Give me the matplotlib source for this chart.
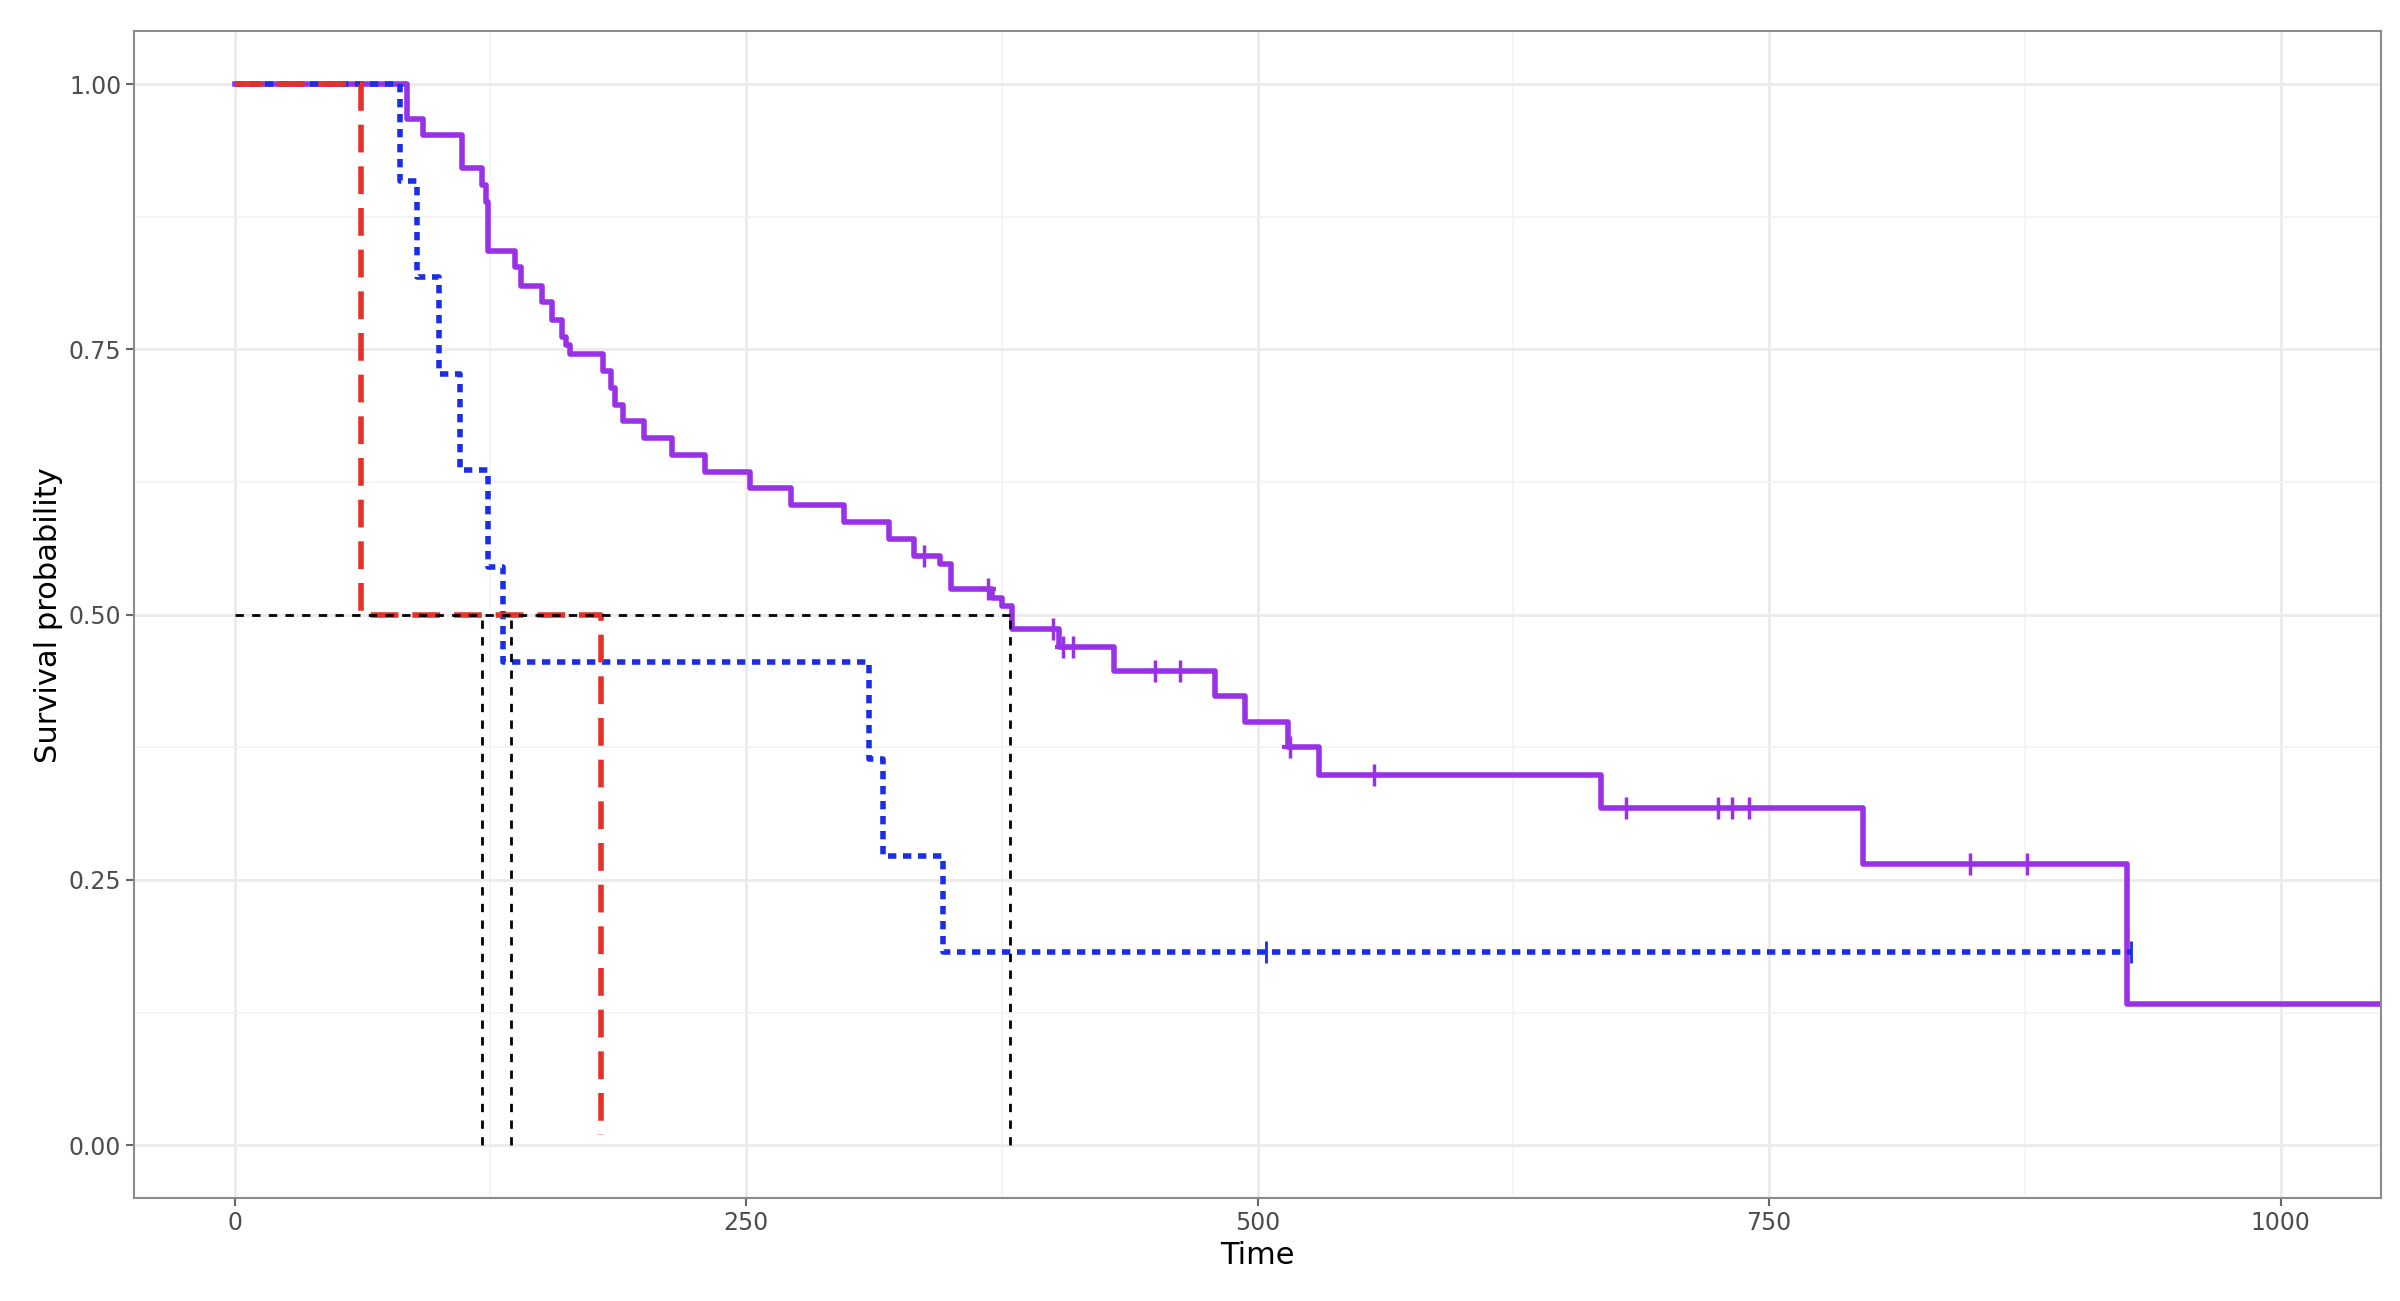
import matplotlib
import matplotlib.pyplot as plt

matplotlib.use("Agg")

# purple group: step times and survival after each step
purple_t = [0, 84, 92, 111, 121, 123, 124, 137, 140, 150, 155, 160, 162, 164, 180, 184, 186, 190,
            200, 214, 230, 252, 272, 298, 320, 332, 345, 350, 370, 375, 380, 403, 430, 479, 494, 515,
            530, 668, 796, 925, 1050]
purple_s = [1.0, 0.967, 0.952, 0.921, 0.905, 0.889, 0.843, 0.828, 0.81, 0.795, 0.778, 0.762, 0.754,
            0.746, 0.730, 0.714, 0.698, 0.683, 0.667, 0.651, 0.635, 0.619, 0.603, 0.587, 0.571, 0.555,
            0.548, 0.524, 0.516, 0.508, 0.487, 0.470, 0.447, 0.423, 0.399, 0.375, 0.349, 0.318, 0.265,
            0.133, 0.133]
purple_cens_t = [337, 368, 400, 405, 410, 450, 462, 516, 557, 680, 725, 732, 740, 848, 876]
purple_cens_s = [0.555, 0.524, 0.487, 0.470, 0.470, 0.447, 0.447, 0.375, 0.349, 0.318, 0.318, 0.318,
                 0.318, 0.265, 0.265]

blue_t = [0, 81, 89, 100, 110, 124, 131, 310, 317, 346, 927]
blue_s = [1.0, 0.909, 0.818, 0.727, 0.636, 0.545, 0.455, 0.364, 0.273, 0.182, 0.182]
blue_cens_t = [504, 927]
blue_cens_s = [0.182, 0.182]

red_t = [0, 62, 179]
red_s = [1.0, 0.5, 0.01]

median_t = [121, 135, 379]

fig = plt.figure(figsize=(24, 13.01), dpi=100)
ax = fig.add_axes([0.056, 0.079, 0.936, 0.897])

ax.step(purple_t, purple_s, where="post", color="#9932e6", lw=4)
ax.plot(purple_cens_t, purple_cens_s, ls="none", marker="|", ms=16, mew=2.5, color="#9932e6")
ax.plot(purple_cens_t, purple_cens_s, ls="none", marker="_", ms=12, mew=3, color="#9932e6")
ax.step(blue_t, blue_s, where="post", color="#1a2ee6", lw=4, ls=(0, (1.5, 1.2)))
ax.plot(blue_cens_t, blue_cens_s, ls="none", marker="|", ms=16, mew=2, color="#1a2ee6")
ax.step(red_t, red_s, where="post", color="#e6302a", lw=4, ls=(0, (5, 2.5)))

ax.plot([0, max(median_t)], [0.5, 0.5], color="black", lw=2, ls=(0, (3, 3)))
for t in median_t:
    ax.plot([t, t], [0, 0.5], color="black", lw=2, ls=(0, (3, 3)))

ax.set_xlim(-49, 1049)
ax.set_ylim(-0.05, 1.05)
ax.set_xticks([0, 250, 500, 750, 1000])
ax.set_yticks([0, 0.25, 0.5, 0.75, 1.0])
ax.set_yticklabels(["0.00", "0.25", "0.50", "0.75", "1.00"])
ax.set_xticks([125, 375, 625, 875], minor=True)
ax.set_yticks([0.125, 0.375, 0.625, 0.875], minor=True)
ax.grid(True, which="major", color="#ebebeb", lw=2)
ax.grid(True, which="minor", color="#f4f4f4", lw=1.2)
ax.set_axisbelow(True)
ax.tick_params(which="minor", length=0)
ax.tick_params(which="major", length=6, width=1.5, color="#666666", labelsize=17, labelcolor="#4d4d4d")
for s in ax.spines.values():
    s.set_color("#8c8c8c")
    s.set_linewidth(1.5)
ax.set_xlabel("Time", fontsize=22)
ax.set_ylabel("Survival probability", fontsize=22)

fig.savefig("out.png", dpi=100)
